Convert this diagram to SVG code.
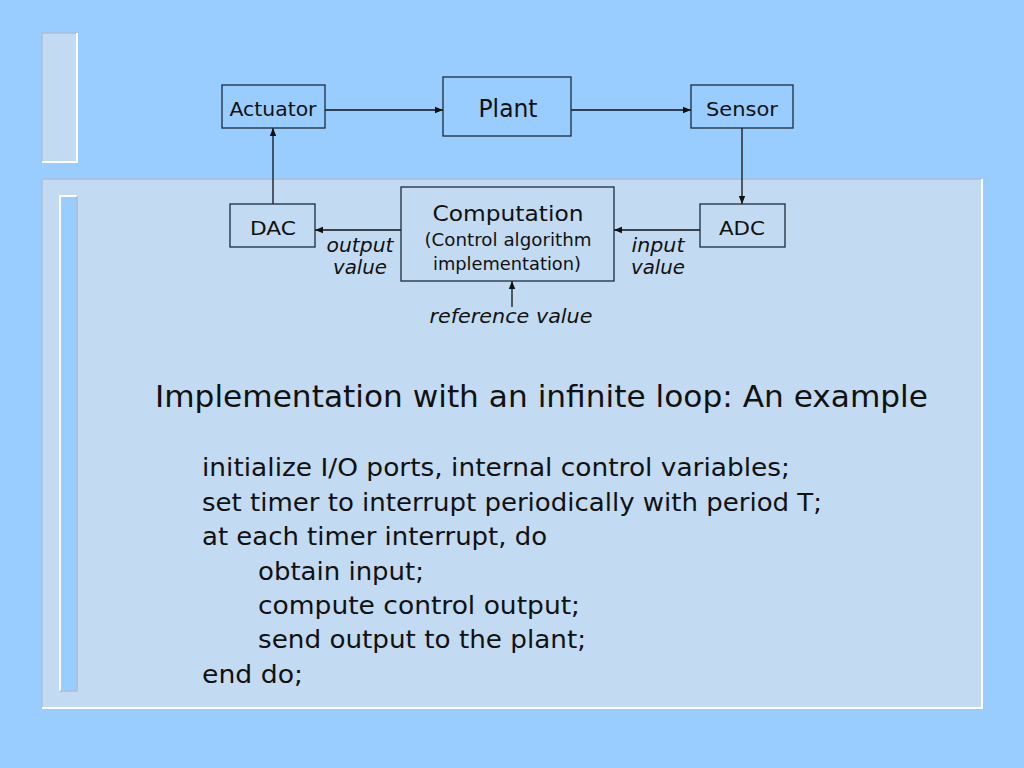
<svg xmlns="http://www.w3.org/2000/svg" width="1024" height="768" viewBox="0 0 1024 768">
<defs>
<marker id="ah" viewBox="0 0 10 10" refX="10" refY="5" markerWidth="8" markerHeight="8" markerUnits="userSpaceOnUse" orient="auto">
<path d="M0,1 L10,5 L0,9 z" fill="#111"/>
</marker>
<style>
.box{fill:none;stroke:#1c2b3c;stroke-width:1.3}
text{font-family:"DejaVu Sans","Liberation Sans",Arial,sans-serif;fill:#111}
.t{text-anchor:middle}
.i{font-style:italic;text-anchor:middle;font-size:19px}
.c{font-size:24px}
.ln{stroke:#111;stroke-width:1.3;fill:none;marker-end:url(#ah)}
</style>
</defs>
<rect width="1024" height="768" fill="#99CCFF"/>
<!-- decorative bars -->
<rect x="42" y="33" width="35" height="129" fill="#C2DBF2"/>
<path d="M42,162 V33 H77" stroke="#A9BFD6" stroke-width="1.5" fill="none"/>
<path d="M77,33 V162 H42" stroke="#FFFFFF" stroke-width="2" fill="none"/>
<rect x="42" y="179" width="940" height="529" fill="#C2DBF2"/>
<path d="M42,708 V179 H982" stroke="#A9BFD6" stroke-width="1.5" fill="none"/>
<path d="M982,179 V708 H42" stroke="#FFFFFF" stroke-width="2" fill="none"/>
<rect x="60" y="196" width="17" height="495" fill="#99CCFF"/>
<path d="M60,691 V196 H77" stroke="#FFFFFF" stroke-width="2" fill="none"/>
<path d="M77,196 V691 H60" stroke="#A9BFD6" stroke-width="1.5" fill="none"/>

<g id="connectors">
<line class="ln" x1="325" y1="110" x2="443" y2="110"/>
<line class="ln" x1="571" y1="110" x2="691" y2="110"/>
<line class="ln" x1="742" y1="128" x2="742" y2="204"/>
<line class="ln" x1="700" y1="230" x2="614" y2="230"/>
<line class="ln" x1="401" y1="230" x2="315" y2="230"/>
<line class="ln" x1="273" y1="204" x2="273" y2="128"/>
<line class="ln" x1="512" y1="307" x2="512" y2="281"/>
</g>

<g id="actuator"><rect class="box" x="222" y="85" width="103" height="43"/><text class="t" x="273" y="116" font-size="19" textLength="87" lengthAdjust="spacingAndGlyphs">Actuator</text></g>
<g id="plant"><rect class="box" x="443" y="77" width="128" height="59"/><text class="t" x="508" y="117" font-size="24" textLength="59" lengthAdjust="spacingAndGlyphs">Plant</text></g>
<g id="sensor"><rect class="box" x="691" y="85" width="102" height="43"/><text class="t" x="742" y="116" font-size="19" textLength="72" lengthAdjust="spacingAndGlyphs">Sensor</text></g>
<g id="dac"><rect class="box" x="230" y="204" width="85" height="43"/><text class="t" x="273" y="235" font-size="19" textLength="46" lengthAdjust="spacingAndGlyphs">DAC</text></g>
<g id="computation"><rect class="box" x="401" y="187" width="213" height="94"/>
<text class="t" x="508" y="221" font-size="21" textLength="151" lengthAdjust="spacingAndGlyphs">Computation</text>
<text class="t" x="508" y="246" font-size="17" textLength="167" lengthAdjust="spacingAndGlyphs">(Control algorithm</text>
<text class="t" x="507" y="270" font-size="17" textLength="148" lengthAdjust="spacingAndGlyphs">implementation)</text></g>
<g id="adc"><rect class="box" x="700" y="204" width="85" height="43"/><text class="t" x="742" y="235" font-size="19" textLength="46" lengthAdjust="spacingAndGlyphs">ADC</text></g>

<text class="i" x="360" y="252" textLength="67" lengthAdjust="spacingAndGlyphs">output</text>
<text class="i" x="360" y="274" textLength="54" lengthAdjust="spacingAndGlyphs">value</text>
<text class="i" x="658" y="252" textLength="53" lengthAdjust="spacingAndGlyphs">input</text>
<text class="i" x="658" y="274" textLength="54" lengthAdjust="spacingAndGlyphs">value</text>
<text class="i" x="511" y="323" textLength="163" lengthAdjust="spacingAndGlyphs">reference value</text>

<text x="155" y="407" font-size="30" textLength="773" lengthAdjust="spacingAndGlyphs">Implementation with an infinite loop: An example</text>
<text class="c" x="202" y="476" textLength="588" lengthAdjust="spacingAndGlyphs">initialize I/O ports, internal control variables;</text>
<text class="c" x="202" y="511" textLength="620" lengthAdjust="spacingAndGlyphs">set timer to interrupt periodically with period T;</text>
<text class="c" x="202" y="545" textLength="345" lengthAdjust="spacingAndGlyphs">at each timer interrupt, do</text>
<text class="c" x="258" y="580" textLength="166" lengthAdjust="spacingAndGlyphs">obtain input;</text>
<text class="c" x="258" y="614" textLength="322" lengthAdjust="spacingAndGlyphs">compute control output;</text>
<text class="c" x="258" y="648" textLength="328" lengthAdjust="spacingAndGlyphs">send output to the plant;</text>
<text class="c" x="202" y="683" textLength="101" lengthAdjust="spacingAndGlyphs">end do;</text>
</svg>
